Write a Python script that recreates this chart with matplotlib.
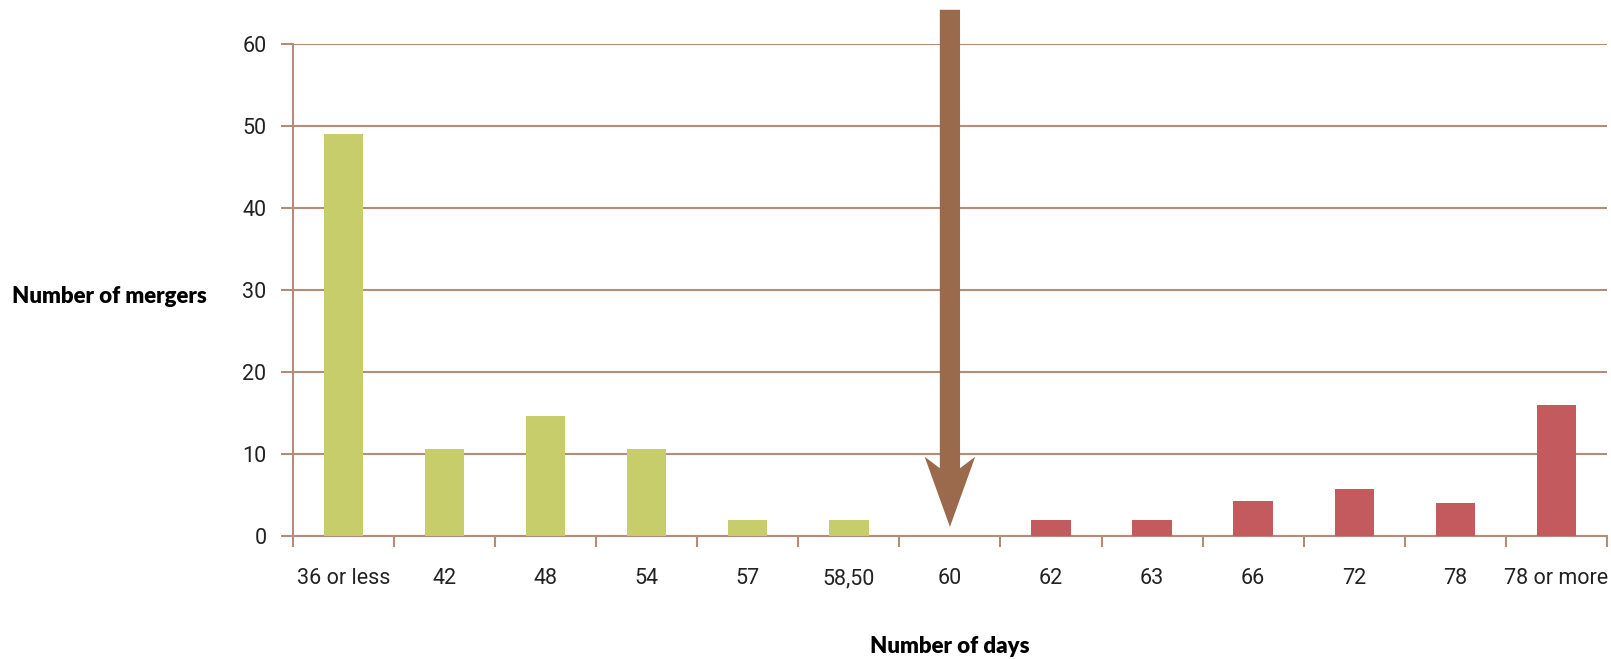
import matplotlib
matplotlib.use("Agg")
import matplotlib.pyplot as plt
from matplotlib.patches import Polygon
import numpy as np

# Merger review durations
categories = ["36 or less", "42", "48", "54", "57", "58,50", "60",
              "62", "63", "66", "72", "78", "78 or more"]
mergers = [49, 10.6, 14.7, 10.6, 2, 2, 0, 2, 2, 4.3, 5.8, 4.1, 16]
deadline_label = "60"
y_ticks = [0, 10, 20, 30, 40, 50, 60]

GREEN = "#C6CD6A"
RED = "#C25A5E"
BROWN = "#9B6A4C"
GRID = "#B38D78"
TEXT = "#222222"

fig = plt.figure(figsize=(16.11, 6.59), dpi=100)
ax = fig.add_axes([0.1818, 0.1862, 0.8157, 0.7467])

x = np.arange(len(categories))
deadline = categories.index(deadline_label)
colors = [GREEN if i < deadline else RED for i in x]
ax.bar(x, mergers, width=0.39, color=colors, zorder=3)

ax.set_xlim(-0.5, len(categories) - 0.5)
ax.set_ylim(0, 60)

# horizontal grid + axes styling
ax.set_yticks(y_ticks)
ax.yaxis.grid(True, color=GRID, linewidth=1.5, zorder=1)
ax.set_axisbelow(True)
for side in ("top", "right"):
    ax.spines[side].set_visible(False)
ax.spines["left"].set_color(GRID)
ax.spines["left"].set_linewidth(1.5)
ax.spines["bottom"].set_color(GRID)
ax.spines["bottom"].set_linewidth(1.5)
ax.tick_params(axis="y", length=9, width=1.5, color=GRID, pad=10,
               labelsize=15.5, labelcolor=TEXT)

ax.set_xticks(x)
ax.set_xticklabels(categories)
ax.tick_params(axis="x", which="major", length=0, pad=23,
               labelsize=15.5, labelcolor=TEXT)
ax.set_xticks(np.arange(-0.5, len(categories)), minor=True)
ax.tick_params(axis="x", which="minor", length=8, width=1.5, color=GRID)

for lbl in ax.get_xticklabels() + ax.get_yticklabels():
    lbl.set_family("Roboto")
    lbl.set_fontstretch("condensed")

ax.set_ylabel("Number of mergers", rotation=0, fontsize=16,
              fontweight="heavy", family="Lato", color="black",
              ha="left", va="center")
ax.yaxis.set_label_coords(-0.2137, 0.488)
ax.set_xlabel("Number of days", fontsize=16, fontweight="heavy",
              family="Lato", color="black")
ax.xaxis.set_label_coords(0.5, -0.203)

# deadline arrow above the 60-day category
cx = x[deadline]
shaft, head = 0.10, 0.25
top, barb, neck, tip = 64.2, 9.7, 8.3, 1.15
arrow = Polygon([(cx - shaft, top), (cx + shaft, top), (cx + shaft, neck),
                 (cx + head, barb), (cx, tip), (cx - head, barb),
                 (cx - shaft, neck)],
                closed=True, facecolor=BROWN, edgecolor="none",
                clip_on=False, zorder=4)
ax.add_patch(arrow)

fig.savefig("out.png", dpi=100)
